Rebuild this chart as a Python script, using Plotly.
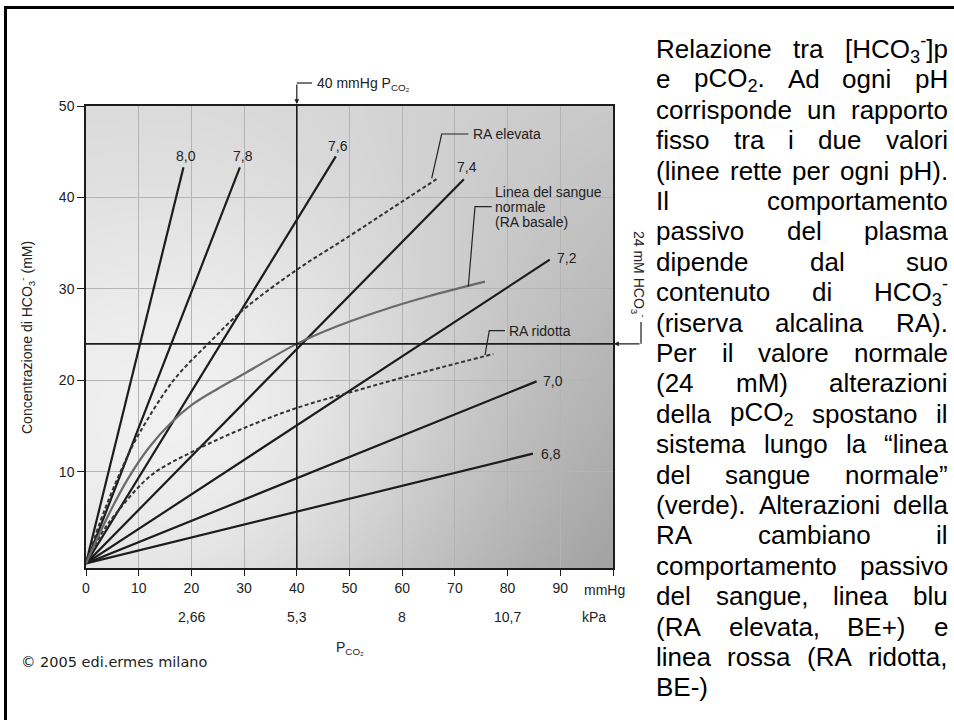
import base64
import re
import struct
import zlib

import numpy as np
import plotly.graph_objects as go

# ---- data ----------------------------------------------------------------
PH_LABELS = ["8,0", "7,8", "7,6", "7,4", "7,2", "7,0", "6,8"]
PH_END_PCO2 = [18.5, 29.2, 47.4, 71.7, 88.0, 85.5, 84.8]
PH_END_HCO3 = [43.3, 43.3, 44.5, 42.0, 33.2, 19.9, 12.0]

NORMAL_PCO2 = [0, 4, 8, 12, 16, 20, 25, 30.5, 40, 48, 55.8, 65, 75.7]
NORMAL_HCO3 = [0, 5.0, 9.3, 12.7, 15.3, 17.3, 19.1, 20.9, 24.0, 26.0, 27.6, 29.2, 30.8]

HIGH_PCO2 = [0, 3.5, 7.7, 10.2, 16.6, 23.5, 29.8, 40, 49.5, 58, 66.5]
HIGH_HCO3 = [0, 5.8, 11.5, 14.3, 20.0, 24.2, 27.7, 32.1, 35.6, 38.8, 42.0]

LOW_PCO2 = [0, 3, 5.9, 12.3, 20.5, 30, 40, 49.5, 60, 77.3]
LOW_HCO3 = [0, 3.3, 5.6, 9.6, 12.3, 14.8, 17.0, 18.6, 20.3, 22.9]

REF_PCO2 = 40
REF_HCO3 = 24

X_TICKS = [0, 10, 20, 30, 40, 50, 60, 70, 80, 90, 100]
X_TICK_TEXT = ["0", "10", "20", "30", "40", "50", "60", "70", "80", "90", ""]
Y_TICKS = [10, 20, 30, 40, 50]
KPA_POS = [20, 40, 60, 80]
KPA_TEXT = ["2,66", "5,3", "8", "10,7"]

BODY_LINES = [
    "Relazione tra [HCO<sub>3</sub><sup>-</sup>]p",
    "e pCO<sub>2</sub>. Ad ogni pH",
    "corrisponde un rapporto",
    "fisso tra i due valori",
    "(linee rette per ogni pH).",
    "Il comportamento",
    "passivo del plasma",
    "dipende dal suo",
    "contenuto di HCO<sub>3</sub><sup>-</sup>",
    "(riserva alcalina RA).",
    "Per il valore normale",
    "(24 mM) alterazioni",
    "della pCO<sub>2</sub> spostano il",
    "sistema lungo la “linea",
    "del sangue normale”",
    "(verde). Alterazioni della",
    "RA cambiano il",
    "comportamento passivo",
    "del sangue, linea blu",
    "(RA elevata, BE+) e",
    "linea rossa (RA ridotta,",
    "BE-)",
]

# ---- geometry helpers (plot area 86..613 x 106..568 px) -------------------
L, T, R, B = 86, 106, 613, 568
Y_MIN, Y_MAX = -0.5, 50


def pxp(p):
    return (p - L) / (R - L)


def pyp(p):
    return (B - p) / (B - T)


def dx(p):
    return (p - L) / (R - L) * 100


def dy(p):
    return (B - p) / (B - T) * (Y_MAX - Y_MIN) + Y_MIN


# Arial / Liberation Sans advance widths
AW = dict(zip(" !\"()+,-./:[]“”", [278, 278, 355, 333, 333, 584, 278, 333, 278, 278, 278, 278, 278, 333, 333]))
AW.update({c: 556 for c in "0123456789"})
AW.update(dict(zip("ABCDEFGHIJKLMNOPQRSTUVWXYZ",
                   [667, 667, 722, 722, 667, 611, 778, 722, 278, 500, 667, 556, 833,
                    722, 778, 667, 778, 722, 667, 611, 722, 667, 944, 667, 667, 611])))
AW.update(dict(zip("abcdefghijklmnopqrstuvwxyz",
                   [556, 556, 500, 556, 556, 278, 556, 556, 222, 222, 500, 222, 833,
                    556, 556, 556, 556, 333, 500, 278, 556, 500, 722, 500, 500, 500])))


def text_width(s, size):
    total = 0.0
    for piece in re.split(r"(<su[bp]>.*?</su[bp]>)", s):
        scale = 0.7 if piece.startswith("<su") else 1.0
        for ch in re.sub(r"<.*?>", "", piece):
            total += AW.get(ch, 556) * scale
    return total * size / 1000


def png_gray(arr):
    h, w = arr.shape
    raw = b"".join(b"\x00" + arr[r].tobytes() for r in range(h))

    def chunk(tag, data):
        c = struct.pack(">I", len(data)) + tag + data
        return c + struct.pack(">I", zlib.crc32(tag + data) & 0xFFFFFFFF)

    return (b"\x89PNG\r\n\x1a\n"
            + chunk(b"IHDR", struct.pack(">IIBBBBB", w, h, 8, 0, 0, 0, 0))
            + chunk(b"IDAT", zlib.compress(raw, 9))
            + chunk(b"IEND", b""))


# grey shading of the plot area: corner tones plus a light spot left of centre
gw, gh = 264, 231
u = (np.arange(gw) + 0.5) / gw
w = (np.arange(gh) + 0.5) / gh
U, V = np.meshgrid(u, w)
top = 212 + (200 - 212) * U
bottom = 207 + (158 - 207) * U
shade = top + (bottom - top) * V
PX = L + U * (R - L)
PY = T + V * (B - T)
shade += 40 * np.exp(-((PX - 230) ** 2 + (PY - 430) ** 2) / (2 * 190 ** 2))
bg_uri = "data:image/png;base64," + base64.b64encode(
    png_gray(np.clip(shade, 0, 255).astype(np.uint8))).decode()

FONT = "Liberation Sans, Arial, Helvetica, sans-serif"
INK = "#1c1c1c"

fig = go.Figure()

# pH isopleths
for xe, ye in zip(PH_END_PCO2, PH_END_HCO3):
    fig.add_trace(go.Scatter(x=[0, xe], y=[0, ye], mode="lines",
                             line=dict(color=INK, width=2.2), hoverinfo="skip"))

fig.add_trace(go.Scatter(x=HIGH_PCO2, y=HIGH_HCO3, mode="lines", line_shape="spline",
                         line=dict(color="#333333", width=2, dash="4px,2.5px")))
fig.add_trace(go.Scatter(x=LOW_PCO2, y=LOW_HCO3, mode="lines", line_shape="spline",
                         line=dict(color="#333333", width=2, dash="4px,2.5px")))
fig.add_trace(go.Scatter(x=NORMAL_PCO2, y=NORMAL_HCO3, mode="lines", line_shape="spline",
                         line=dict(color="#6a6a6a", width=2.2)))

# reference lines
fig.add_trace(go.Scatter(x=[REF_PCO2, REF_PCO2], y=[Y_MIN, Y_MAX], mode="lines",
                         line=dict(color=INK, width=1.6)))
fig.add_trace(go.Scatter(x=[0, 100], y=[REF_HCO3, REF_HCO3], mode="lines",
                         line=dict(color=INK, width=1.6)))

ann = []
shapes = []


def label(text, xp, yp, size=14, anchor="center", **kw):
    ann.append(dict(x=pxp(xp), y=pyp(yp), xref="paper", yref="paper", text=text,
                    xanchor=anchor, yanchor="middle", showarrow=False, borderpad=0,
                    font=dict(size=size, color="#222", **kw.pop("font", {})), **kw))


# pH labels
label_shift = [(3, 11), (3, 11), (2, 10), (3, 12), (17, 2), (16, 0), (18, 0)]
for lab, xe, ye, (sx, sy) in zip(PH_LABELS, PH_END_PCO2, PH_END_HCO3, label_shift):
    ann.append(dict(x=xe, y=ye, xref="x", yref="y", text=lab, showarrow=False,
                    xanchor="center", yanchor="middle",
                    xshift=sx, yshift=sy, font=dict(size=14, color="#222")))


# callouts
def bracket(points):
    d = "M " + " L ".join(f"{dx(a):.3f},{dy(b):.3f}" for a, b in points)
    return dict(type="path", path=d, xref="x", yref="y",
                line=dict(color="#222", width=1.2))


shapes.append(bracket([(431.7, 178.3), (441.7, 134), (468.3, 134)]))
shapes.append(bracket([(468.3, 286.7), (475, 206.7), (491.7, 206.7)]))
shapes.append(bracket([(485, 355), (489.3, 330.7), (505, 330.7)]))
for txt, xp, yp in [("RA elevata", 472, 134), ("Linea del sangue", 494, 192.3),
                    ("normale", 494, 206.7), ("(RA basale)", 494, 222),
                    ("RA ridotta", 508, 330.7)]:
    label(txt, xp, yp, anchor="left")

# 40 mmHg marker above the plot
ann.append(dict(x=REF_PCO2, y=pyp(104), xref="x", yref="paper", text="", showarrow=True,
                ax=0, ay=-21, arrowhead=2, arrowsize=0.8, arrowwidth=1.2, arrowcolor=INK,
                standoff=0))
shapes.append(dict(type="line", xref="x", yref="paper", x0=REF_PCO2, x1=dx(312),
                   y0=pyp(83), y1=pyp(83), line=dict(color=INK, width=1.2)))
label("40 mmHg P<sub>CO₂</sub>", 316, 84, size=14, anchor="left")

# 24 mM marker on the right
ann.append(dict(x=pxp(614), y=REF_HCO3, xref="paper", yref="y", text="", showarrow=True,
                ax=27, ay=0, arrowhead=2, arrowsize=0.8, arrowwidth=1.2, arrowcolor=INK,
                standoff=0))
shapes.append(dict(type="line", xref="paper", yref="y", x0=pxp(641), x1=pxp(641),
                   y0=dy(322), y1=REF_HCO3, line=dict(color=INK, width=1.2)))
label("24 mM HCO<sub>3</sub><sup>-</sup>", 639, 274, size=14, textangle=90)

# axis titles and secondary scale
label("Concentrazione di HCO<sub>3</sub><sup>-</sup> (mM)", 27, 338, textangle=-90)
label("P<sub>CO₂</sub>", 350, 648)
label("mmHg", 604, 590)
label("kPa", 594, 617)
for xv, t in zip(KPA_POS, KPA_TEXT):
    ann.append(dict(x=xv, y=pyp(617), xref="x", yref="paper", text=t, xanchor="center",
                    yanchor="middle", showarrow=False, font=dict(size=14, color="#222")))
label("© 2005 edi.ermes milano", 20, 662, size=14.5, anchor="left",
      font=dict(family="DejaVu Sans"))

# justified body text on the right
TX0, TX1, FS = 656, 948, 26
for i, line in enumerate(BODY_LINES):
    yc = 49 + 30.4 * i
    words = line.split(" ")
    widths = [text_width(wd, FS) for wd in words]
    if i == len(BODY_LINES) - 1 or len(words) == 1:
        gap = text_width(" ", FS)
    else:
        gap = (TX1 - TX0 - sum(widths)) / (len(words) - 1)
    xpos = TX0
    for k, (wd, wpx) in enumerate(zip(words, widths)):
        last = k == len(words) - 1 and i != len(BODY_LINES) - 1 and len(words) > 1
        ann.append(dict(x=pxp(TX1 if last else xpos), y=pyp(yc), xref="paper", yref="paper",
                        text=wd, xanchor="right" if last else "left", yanchor="middle",
                        showarrow=False, borderpad=0, borderwidth=0,
                        font=dict(size=FS, color="#000")))
        xpos += wpx + gap

# outer frame (left and top edges visible)
shapes.append(dict(type="line", xref="paper", yref="paper", x0=pxp(5.5), x1=pxp(5.5),
                   y0=pyp(6), y1=pyp(730), line=dict(color="#000", width=3)))
shapes.append(dict(type="line", xref="paper", yref="paper", x0=pxp(4), x1=pxp(970),
                   y0=pyp(7.5), y1=pyp(7.5), line=dict(color="#000", width=3)))

axis_common = dict(showline=True, linecolor=INK, linewidth=1.5, mirror=True,
                   ticks="outside", tickcolor=INK, tickwidth=1.3,
                   showgrid=True, gridcolor="#b4b4b4", gridwidth=1.2, zeroline=False,
                   tickfont=dict(size=14, color="#222"))

fig.update_layout(
    width=954, height=720,
    margin=dict(l=L, r=954 - R, t=T, b=720 - B),
    paper_bgcolor="white", plot_bgcolor="rgba(0,0,0,0)",
    font=dict(family=FONT, color="#222"),
    showlegend=False,
    xaxis=dict(range=[0, 100], tickvals=X_TICKS, ticktext=X_TICK_TEXT, ticklen=6, **axis_common),
    yaxis=dict(range=[Y_MIN, Y_MAX], tickvals=Y_TICKS, ticklen=7, **axis_common),
    images=[dict(source=bg_uri, xref="paper", yref="paper", x=0, y=1, sizex=1, sizey=1,
                 sizing="stretch", layer="below")],
    annotations=ann,
    shapes=shapes,
)

fig.write_html("out.html", config={"displayModeBar": False},
               post_script="document.body.style.margin='0';")
